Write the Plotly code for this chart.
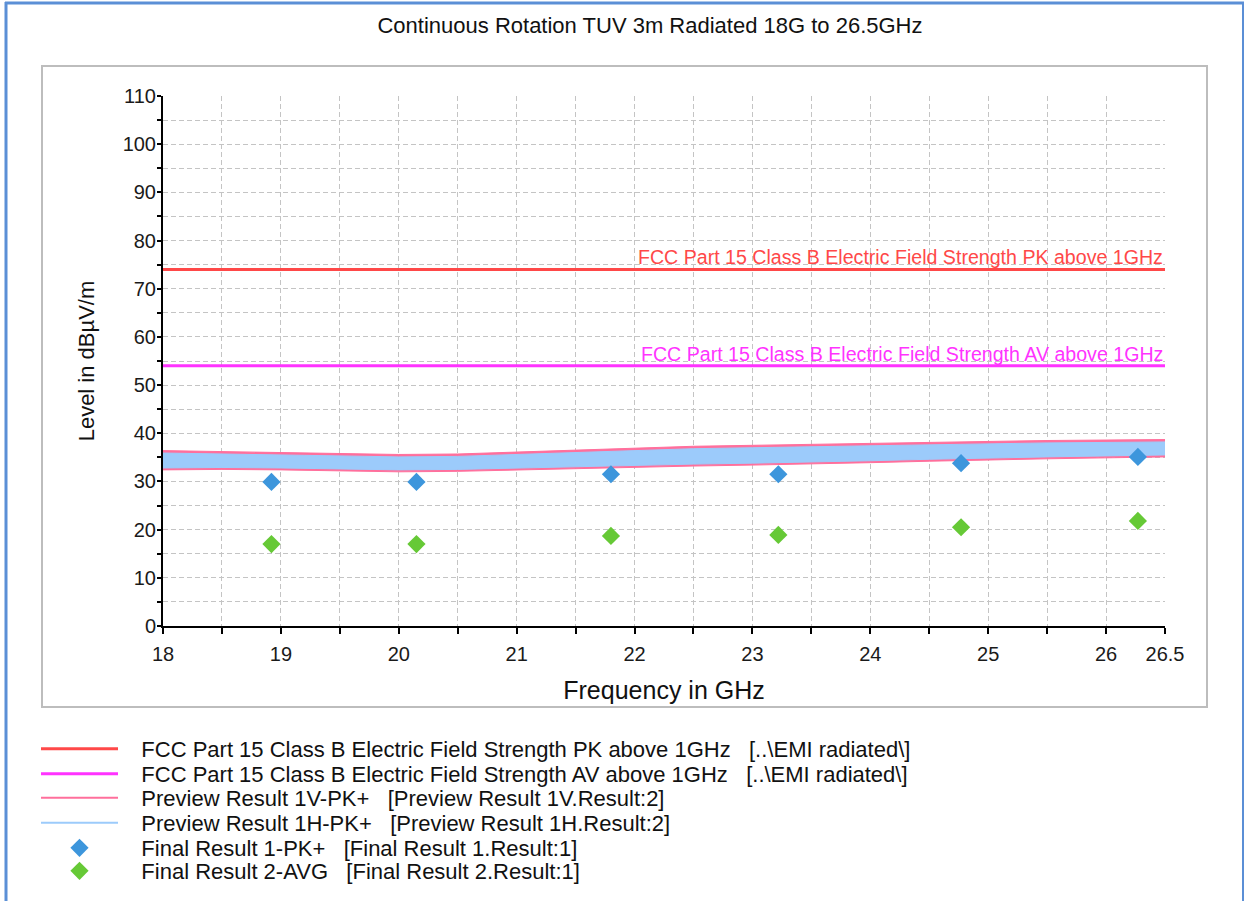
import plotly.graph_objects as go

# ---------------- data ----------------
freq_grid = [18.0, 18.5, 19.0, 19.5, 20.0, 20.5, 21.0, 21.5, 22.0,
             22.5, 23.0, 23.5, 24.0, 24.5, 25.0, 25.5, 26.0, 26.5]
# Preview 1H-PK+ band (envelope, dBuV/m)
h_upper = [35.9, 35.7, 35.5, 35.3, 35.1, 35.2, 35.6, 36.0, 36.5,
           36.8, 37.0, 37.2, 37.4, 37.6, 37.9, 38.0, 38.1, 38.2]
h_lower = [32.8, 32.9, 32.8, 32.6, 32.4, 32.5, 32.8, 33.1, 33.4,
           33.6, 33.8, 34.0, 34.3, 34.6, 34.9, 35.1, 35.3, 35.5]
# Preview 1V-PK+ band
v_upper = [36.4, 36.2, 36.0, 35.8, 35.6, 35.7, 36.1, 36.5, 37.0,
           37.3, 37.5, 37.7, 37.9, 38.1, 38.4, 38.5, 38.6, 38.7]
v_lower = [32.4, 32.5, 32.4, 32.2, 32.0, 32.1, 32.4, 32.7, 33.0,
           33.2, 33.4, 33.6, 33.9, 34.2, 34.5, 34.7, 34.9, 35.1]

limit_freq = [18.0, 26.5]
limit_pk = [74.0, 74.0]
limit_av = [54.0, 54.0]

final_freq = [18.92, 20.15, 21.80, 23.22, 24.77, 26.27]
final_pk = [29.9, 29.9, 31.5, 31.5, 33.8, 35.1]
final_avg = [17.0, 17.0, 18.7, 18.9, 20.5, 21.8]

x_tickvals = [18.0, 18.5, 19.0, 19.5, 20.0, 20.5, 21.0, 21.5, 22.0,
              22.5, 23.0, 23.5, 24.0, 24.5, 25.0, 25.5, 26.0, 26.5]
x_ticktext = ["18", "", "19", "", "20", "", "21", "", "22",
              "", "23", "", "24", "", "25", "", "26", "26.5"]
y_tickvals = list(range(0, 111, 5))
y_ticktext = [str(v) if v % 10 == 0 else "" for v in y_tickvals]

title_text = "Continuous Rotation TUV 3m Radiated 18G to 26.5GHz"
name_pk = "FCC Part 15 Class B Electric Field Strength PK above 1GHz"
name_av = "FCC Part 15 Class B Electric Field Strength AV above 1GHz"
sp = "\u00a0\u00a0\u00a0"
lead = "\u00a0\u00a0\u00a0"
legend_names = [
    lead + name_pk + sp + "[..\\EMI radiated\\]",
    lead + name_av + sp + "[..\\EMI radiated\\]",
    lead + "Preview Result 1V-PK+" + sp + "[Preview Result 1V.Result:2]",
    lead + "Preview Result 1H-PK+" + sp + "[Preview Result 1H.Result:2]",
    lead + "Final Result 1-PK+" + sp + "[Final Result 1.Result:1]",
    lead + "Final Result 2-AVG" + sp + "[Final Result 2.Result:1]",
]

# ---------------- styles ----------------
FONT = "Liberation Sans, Arial, sans-serif"
C_PK = "#ff4848"
C_AV = "#ff33ff"
C_V = "#ff6f9c"
C_H = "#9ccbfb"
C_FPK = "#3d96dc"
C_FAV = "#66c936"

fig = go.Figure()

# Limit lines
fig.add_trace(go.Scatter(x=limit_freq, y=limit_pk, mode="lines",
                         line=dict(color=C_PK, width=3),
                         name=legend_names[0], legend="legend"))
fig.add_trace(go.Scatter(x=limit_freq, y=limit_av, mode="lines",
                         line=dict(color=C_AV, width=3),
                         name=legend_names[1], legend="legend2"))

# Preview V band (pink)
fig.add_trace(go.Scatter(x=freq_grid, y=v_lower, mode="lines",
                         line=dict(color=C_V, width=1), showlegend=False,
                         hoverinfo="skip"))
fig.add_trace(go.Scatter(x=freq_grid, y=v_upper, mode="lines",
                         line=dict(color=C_V, width=1), fill="tonexty",
                         fillcolor=C_V, showlegend=False, hoverinfo="skip"))
# Preview H band (light blue)
fig.add_trace(go.Scatter(x=freq_grid, y=h_lower, mode="lines",
                         line=dict(color=C_H, width=1), showlegend=False,
                         hoverinfo="skip"))
fig.add_trace(go.Scatter(x=freq_grid, y=h_upper, mode="lines",
                         line=dict(color=C_H, width=1), fill="tonexty",
                         fillcolor=C_H, showlegend=False, hoverinfo="skip"))

# Legend entries for the preview traces
fig.add_trace(go.Scatter(x=[None], y=[None], mode="lines",
                         line=dict(color=C_V, width=2),
                         name=legend_names[2], legend="legend3"))
fig.add_trace(go.Scatter(x=[None], y=[None], mode="lines",
                         line=dict(color=C_H, width=2),
                         name=legend_names[3], legend="legend4"))

# Final results
fig.add_trace(go.Scatter(x=final_freq, y=final_pk, mode="markers",
                         marker=dict(symbol="diamond", size=14, color=C_FPK),
                         name=legend_names[4], legend="legend5"))
fig.add_trace(go.Scatter(x=final_freq, y=final_avg, mode="markers",
                         marker=dict(symbol="diamond", size=14, color=C_FAV),
                         name=legend_names[5], legend="legend6"))

# ---------------- layout ----------------
W, H = 1245, 901
L, R, T, B = 163, 80, 96, 275
pw, ph = W - L - R, H - T - B


def px_x(p):
    return (p - L) / pw


def px_y(p):
    return (H - B - p) / ph


row_y = [749, 774, 798, 823, 848, 871]
legend_common = dict(x=px_x(36), xanchor="left", yanchor="middle",
                     bgcolor="rgba(0,0,0,0)", borderwidth=0,
                     font=dict(family=FONT, size=22, color="#111111"),
                     itemwidth=77, tracegroupgap=0)
legends = {}
for i, py in enumerate(row_y):
    key = "legend" if i == 0 else f"legend{i + 1}"
    legends[key] = dict(legend_common, y=px_y(py))

axis_font = dict(family=FONT, size=20, color="#1a1a1a")
grid_common = dict(showgrid=True, gridcolor="#c4c4c4", gridwidth=1,
                   griddash="5px,3px", zeroline=False)

fig.update_layout(
    width=W, height=H,
    margin=dict(l=L, r=R, t=T, b=B, pad=0, autoexpand=False),
    paper_bgcolor="white", plot_bgcolor="white",
    font=dict(family=FONT, color="#111111"),
    title=dict(text=title_text, xref="container", yref="container",
               x=650 / W, y=1 - 25 / H, xanchor="center", yanchor="middle",
               font=dict(family=FONT, size=22, color="#111111")),
    xaxis=dict(range=[18, 26.5], tickmode="array", tickvals=x_tickvals,
               ticktext=x_ticktext, ticks="outside", ticklen=6,
               tickcolor="black", tickwidth=1.5,
               showline=True, linecolor="black", linewidth=2,
               tickfont=axis_font, ticklabelstandoff=3,
               title=dict(text="Frequency in GHz", standoff=17,
                          font=dict(family=FONT, size=25, color="#111111")),
               automargin=False, **grid_common),
    yaxis=dict(range=[0, 110], tickmode="array", tickvals=y_tickvals,
               ticktext=y_ticktext, ticks="outside", ticklen=4,
               tickcolor="black", tickwidth=1.5,
               showline=True, linecolor="black", linewidth=2,
               tickfont=axis_font, ticklabelstandoff=-3,
               title=dict(text="Level in dBµV/m", standoff=22,
                          font=dict(family=FONT, size=22, color="#111111")),
               automargin=False, **grid_common),
    xaxis2=dict(overlaying="x", matches="x", anchor="y", side="bottom",
                tickmode="array", tickvals=x_tickvals, ticks="inside",
                ticklen=6, tickcolor="black", tickwidth=1.5,
                showticklabels=False, showgrid=False, showline=False,
                zeroline=False),
    yaxis2=dict(overlaying="y", matches="y", anchor="x", side="left",
                tickmode="array", tickvals=y_tickvals, ticks="inside",
                ticklen=4, tickcolor="black", tickwidth=1.5,
                showticklabels=False, showgrid=False, showline=False,
                zeroline=False),
    showlegend=True,
    **legends,
)

# Limit line labels
fig.add_annotation(x=26.5, y=74, xref="x", yref="y", text=name_pk,
                   showarrow=False, xanchor="right", yanchor="bottom",
                   yshift=-1, font=dict(family=FONT, size=19.6, color=C_PK))
fig.add_annotation(x=26.5, y=54, xref="x", yref="y", text=name_av,
                   showarrow=False, xanchor="right", yanchor="bottom",
                   yshift=-1, font=dict(family=FONT, size=19.6, color=C_AV))

# Frames: chart frame (gray) and window border (blue)
fig.add_shape(type="rect", xref="paper", yref="paper",
              x0=px_x(42), x1=px_x(1207), y0=px_y(707), y1=px_y(66),
              line=dict(color="#bdbdbd", width=2), layer="below")
fig.add_shape(type="line", xref="paper", yref="paper",
              x0=px_x(6), x1=px_x(6), y0=px_y(2), y1=px_y(901),
              line=dict(color="#5b8fd6", width=3))
fig.add_shape(type="line", xref="paper", yref="paper",
              x0=px_x(5), x1=px_x(1244), y0=px_y(3), y1=px_y(3),
              line=dict(color="#5b8fd6", width=3))
fig.add_shape(type="line", xref="paper", yref="paper",
              x0=px_x(1243), x1=px_x(1243), y0=px_y(2), y1=px_y(901),
              line=dict(color="#5b8fd6", width=2))

fig.write_html("out.html")
